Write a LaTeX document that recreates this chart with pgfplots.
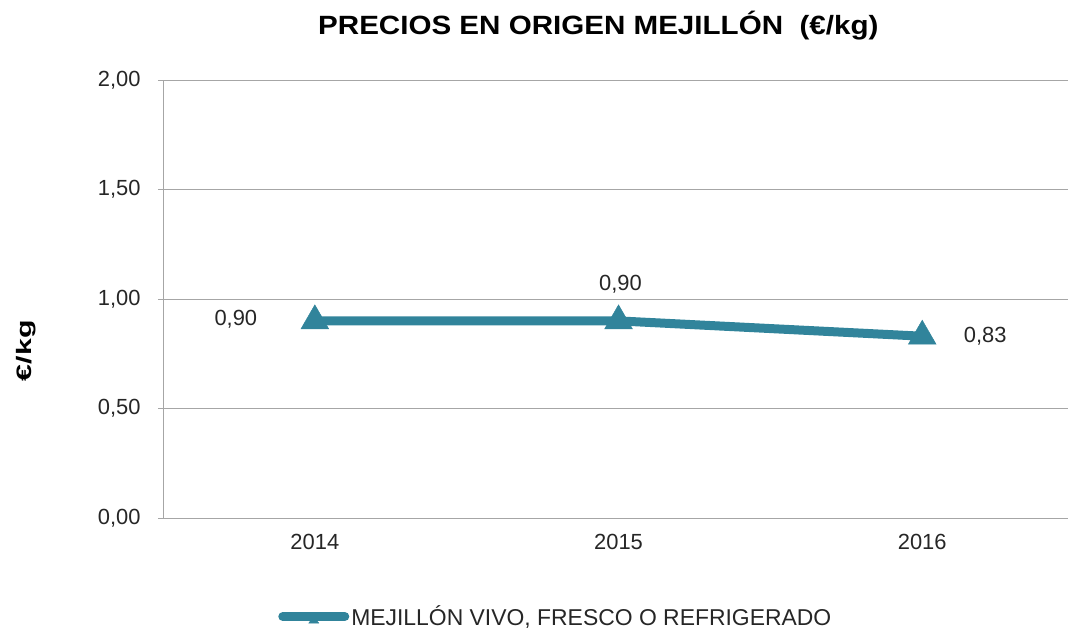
\documentclass[border=0pt]{standalone}
\usepackage{pgfplots}
\pgfplotsset{compat=1.18}
\usepackage{fontspec}
\setmainfont{Liberation Sans}
\definecolor{teal1}{HTML}{31849B}
\definecolor{gridg}{HTML}{A6A6A6}
\begin{document}
\begin{tikzpicture}
\begin{axis}[
  scale only axis,
  width=905bp, height=438bp,
  xmin=-0.5, xmax=2.48,
  ymin=0, ymax=2,
  ytick={0,0.5,1,1.5,2},
  xtick={0,1,2},
  xticklabels={2014,2015,2016},
  yticklabel={\pgfmathprintnumber[fixed,fixed zerofill,precision=2,use comma]{\tick}},
  /pgf/number format/assume math mode=true,
  ymajorgrids,
  grid style={gridg, line width=0.8bp},
  axis x line*=bottom,
  axis y line*=left,
  axis line style={gridg, line width=0.8bp, -},
  x axis line style={draw=none},
  xtick style={draw=none},
  ytick style={gridg, line width=0.8bp},
  tick align=outside,
  major tick length=5bp,
  tick label style={font=\fontsize{22}{26}\selectfont, text=black!85},
  yticklabel style={xshift=-14bp},
  xticklabel style={yshift=-8bp},
  ylabel={\scalebox{1.45}[1]{\textbf{€/kg}}},
  ylabel style={font=\fontsize{21}{25}\selectfont, at={(axis description cs:-0.151,0.382)}, anchor=center, rotate=0},
  legend style={at={(axis description cs:0.434,-0.225)}, anchor=center, draw=none, fill=none,
    font=\fontsize{23}{27}\selectfont, text=black!85, inner sep=0pt,
    /tikz/every even column/.append style={column sep=2bp}},
  clip=false,
]
\addplot[teal1, line width=9bp, mark=triangle*, mark size=16bp, mark options={line width=0.5bp}, forget plot]
  coordinates {(0,0.90) (1,0.90) (2,0.83)};
\addlegendimage{teal1, mark=none, legend image code/.code={
    \draw[teal1, line width=9bp, line cap=round] (0bp,0bp) -- (62bp,0bp);
    \path[fill=teal1] (26bp,-6.5bp) -- (36bp,-6.5bp) -- (31bp,0bp) -- cycle;
  }}
\addlegendentry{MEJILLÓN VIVO, FRESCO O REFRIGERADO}
\addplot[draw=none, forget plot, point meta=explicit symbolic, nodes near coords,
  nodes near coords style={anchor=center, xshift=-79bp, yshift=2bp, font=\fontsize{22}{26}\selectfont, text=black!85}]
  coordinates {(0,0.90)[0,90]};
\addplot[draw=none, forget plot, point meta=explicit symbolic, nodes near coords,
  nodes near coords style={anchor=center, xshift=2bp, yshift=37bp, font=\fontsize{22}{26}\selectfont, text=black!85}]
  coordinates {(1,0.90)[0,90]};
\addplot[draw=none, forget plot, point meta=explicit symbolic, nodes near coords,
  nodes near coords style={anchor=center, xshift=63bp, yshift=0bp, font=\fontsize{22}{26}\selectfont, text=black!85}]
  coordinates {(2,0.83)[0,83]};
\node[font=\bfseries\fontsize{26.5}{30}\selectfont, anchor=center] at (axis description cs:0.481,1.125)
  {\scalebox{1.12}[1]{PRECIOS EN ORIGEN MEJILLÓN\ \ (€/kg)}};
\coordinate (sw) at (rel axis cs:0,0);
\coordinate (ne) at (rel axis cs:1,1);
\end{axis}
\pgfresetboundingbox
\path ([xshift=-163bp,yshift=-113bp]sw) rectangle ([xshift=2bp,yshift=80bp]ne);
\end{tikzpicture}
\end{document}
